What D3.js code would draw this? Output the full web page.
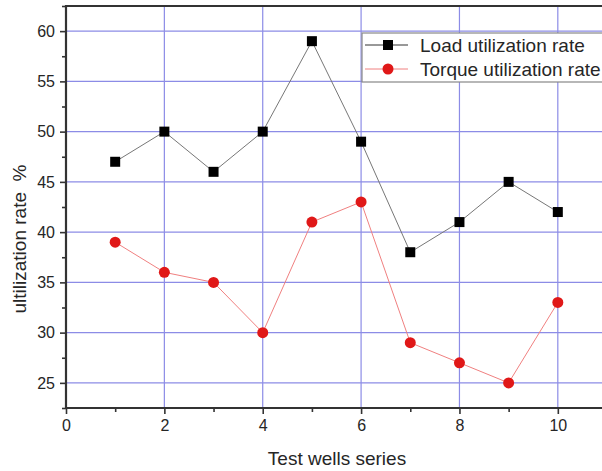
<!DOCTYPE html>
<html>
<head>
<meta charset="utf-8">
<script src="https://d3js.org/d3.v7.min.js"></script>
<style>
  body { margin: 0; background: #fff; }
  text { font-family: "Liberation Sans", Arial, sans-serif; fill: #262626; }
</style>
</head>
<body>
<svg width="602" height="471"></svg>
<script>
var wells = [1, 2, 3, 4, 5, 6, 7, 8, 9, 10];
var loadRate = [47, 50, 46, 50, 59, 49, 38, 41, 45, 42];
var torqueRate = [39, 36, 35, 30, 41, 43, 29, 27, 25, 33];
var xTicks = [0, 2, 4, 6, 8, 10];
var yTicks = [25, 30, 35, 40, 45, 50, 55, 60];

var pLeft = 66, pTop = 6, pRight = 607, pBottom = 408;
var svg = d3.select("svg");

var x = d3.scaleLinear().domain([0, 11]).range([pLeft, pRight]);
var y = d3.scaleLinear().domain([22.5, 62.5]).range([pBottom, pTop]);

// grid
svg.append("g").selectAll("line").data(xTicks.slice(1)).enter().append("line")
  .attr("x1", d => x(d)).attr("x2", d => x(d)).attr("y1", pTop).attr("y2", pBottom)
  .attr("stroke", "#8c8ce6").attr("stroke-width", 1.2);
svg.append("g").selectAll("line").data(yTicks).enter().append("line")
  .attr("x1", pLeft).attr("x2", pRight).attr("y1", d => y(d)).attr("y2", d => y(d))
  .attr("stroke", "#8c8ce6").attr("stroke-width", 1.2);

// axes
var xAxis = d3.axisBottom(x).tickValues(xTicks).tickSize(6).tickPadding(6);
var xMinor = d3.axisBottom(x).tickValues([1, 3, 5, 7, 9]).tickSize(4).tickFormat("");
var yAxis = d3.axisLeft(y).tickValues(yTicks).tickSize(6).tickPadding(5);
var yMinor = d3.axisLeft(y).tickValues([22.5, 27.5, 32.5, 37.5, 42.5, 47.5, 52.5, 57.5, 62.5]).tickSize(4).tickFormat("");

function styleAxis(g) {
  g.select(".domain").remove();
  g.selectAll("line").attr("stroke", "#333").attr("stroke-width", 1.6);
  g.selectAll("text").attr("font-size", 16)
    .attr("font-family", "Liberation Sans, Arial, sans-serif");
}
svg.append("g").attr("transform", "translate(0," + pBottom + ")").call(xAxis).call(styleAxis);
svg.append("g").attr("transform", "translate(0," + pBottom + ")").call(xMinor).call(styleAxis);
svg.append("g").attr("transform", "translate(" + pLeft + ",0)").call(yAxis).call(styleAxis);
svg.append("g").attr("transform", "translate(" + pLeft + ",0)").call(yMinor).call(styleAxis);

// frame
svg.append("path")
  .attr("d", "M" + pRight + "," + pTop + "H" + pLeft + "V" + pBottom + "H" + pRight)
  .attr("fill", "none").attr("stroke", "#333").attr("stroke-width", 2.2);

// series
var line = d3.line().x((d, i) => x(wells[i])).y(d => y(d));
svg.append("path").datum(loadRate).attr("d", line)
  .attr("fill", "none").attr("stroke", "#777").attr("stroke-width", 1);
svg.append("path").datum(torqueRate).attr("d", line)
  .attr("fill", "none").attr("stroke", "#f08080").attr("stroke-width", 1);

svg.append("g").selectAll("rect").data(loadRate).enter().append("rect")
  .attr("x", (d, i) => x(wells[i]) - 5).attr("y", d => y(d) - 5)
  .attr("width", 10).attr("height", 10).attr("fill", "#000");
svg.append("g").selectAll("circle").data(torqueRate).enter().append("circle")
  .attr("cx", (d, i) => x(wells[i])).attr("cy", d => y(d)).attr("r", 5.5)
  .attr("fill", "#e01818");

// legend
var lg = svg.append("g").attr("transform", "translate(362,33)");
lg.append("rect").attr("width", 260).attr("height", 49)
  .attr("fill", "#fff").attr("stroke", "#888").attr("stroke-width", 1.2);
lg.append("line").attr("x1", 3).attr("x2", 46).attr("y1", 12).attr("y2", 12).attr("stroke", "#333");
lg.append("rect").attr("x", 21).attr("y", 7).attr("width", 10).attr("height", 10).attr("fill", "#000");
lg.append("text").attr("x", 58).attr("y", 19).attr("font-size", 19).text("Load utilization rate");
lg.append("line").attr("x1", 3).attr("x2", 46).attr("y1", 36).attr("y2", 36).attr("stroke", "#f08080");
lg.append("circle").attr("cx", 26).attr("cy", 36).attr("r", 5.5).attr("fill", "#e01818");
lg.append("text").attr("x", 58).attr("y", 43).attr("font-size", 19).text("Torque utilization rate");

// axis titles
svg.append("text").attr("x", 337).attr("y", 465).attr("text-anchor", "middle")
  .attr("font-size", 19).text("Test wells series");
svg.append("text").attr("transform", "translate(26,239) rotate(-90)").attr("text-anchor", "middle")
  .attr("font-size", 19).attr("xml:space", "preserve").style("white-space", "pre")
  .text("ultilization rate  %");
</script>
</body>
</html>
